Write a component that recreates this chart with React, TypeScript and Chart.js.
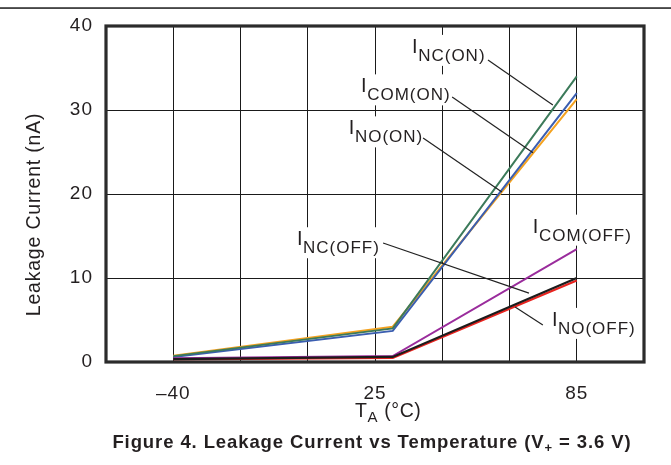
import React, { useEffect, useRef } from 'react';
import { Chart, registerables } from 'chart.js';

Chart.register(...registerables);

// ---- data ----
const temperatures = [-40, 28, 85];
const xTickLabels = ['', '–40', '', '', '25', '', '', '85', ''];
const yTickValues = [0, 10, 20, 30, 40];

const iNcOn = [0.7, 4.0, 34.0];
const iComOn = [0.6, 3.7, 32.0];
const iNoOn = [0.75, 4.2, 31.3];
const iComOff = [0.45, 0.7, 13.45];
const iNcOff = [0.35, 0.6, 10.0];
const iNoOff = [0.3, 0.5, 9.7];

const calloutSubs = ['NC(ON)', 'COM(ON)', 'NO(ON)', 'NC(OFF)', 'COM(OFF)', 'NO(OFF)'];
// callout anchor (temperature, nA) and leader endpoints in data units
const calloutAt = [
  [34.0, 36.8], [18.2, 32.1], [14.4, 27.1], [-1.7, 13.9], [71.4, 15.4], [77.3, 4.3],
];
const calloutLeaders = [
  [57.5, 35.95, 77.6, 30.6],
  [46.4, 31.55, 71.45, 24.9],
  [37.4, 26.67, 61.8, 20.25],
  [25.0, 14.17, 70.2, 8.2],
  null,
  [74.5, 4.4, 65.9, 6.55],
];

const FONT = '"Liberation Sans", Arial, sans-serif';
const TEXT = '#231f20';
const X_MIN = -40 - 125 / 6;
const X_MAX = 85 + 125 / 6;
const X_STEP = 125 / 6;

const overlay = {
  id: 'overlay',
  beforeDraw(chart: any) {
    chart.ctx.letterSpacing = '1px';
  },
  afterDatasetsDraw(chart: any) {
    const ctx = chart.ctx as CanvasRenderingContext2D & { letterSpacing: string };
    const xs = chart.scales.x;
    const ys = chart.scales.y;
    const { left, right, top, bottom } = chart.chartArea;
    ctx.save();
    ctx.textAlign = 'left';
    ctx.textBaseline = 'alphabetic';

    // callouts
    calloutSubs.forEach((sub, i) => {
      const x = xs.getPixelForValue(calloutAt[i][0]);
      const y = ys.getPixelForValue(calloutAt[i][1]);
      ctx.font = `20px ${FONT}`;
      ctx.letterSpacing = '0px';
      const wI = ctx.measureText('I').width;
      ctx.font = `17px ${FONT}`;
      ctx.letterSpacing = '1px';
      const wS = ctx.measureText(sub).width;
      ctx.fillStyle = '#ffffff';
      ctx.fillRect(x - 3, y - 18, wI + wS + 5, 31);
    });
    calloutLeaders.forEach((l) => {
      if (!l) return;
      ctx.beginPath();
      ctx.moveTo(xs.getPixelForValue(l[0]), ys.getPixelForValue(l[1]));
      ctx.lineTo(xs.getPixelForValue(l[2]), ys.getPixelForValue(l[3]));
      ctx.strokeStyle = '#222';
      ctx.lineWidth = 1.2;
      ctx.stroke();
    });
    calloutSubs.forEach((sub, i) => {
      const x = xs.getPixelForValue(calloutAt[i][0]);
      const y = ys.getPixelForValue(calloutAt[i][1]);
      ctx.fillStyle = TEXT;
      ctx.font = `20px ${FONT}`;
      ctx.letterSpacing = '0px';
      ctx.fillText('I', x, y);
      const wI = ctx.measureText('I').width;
      ctx.font = `17px ${FONT}`;
      ctx.letterSpacing = '1px';
      ctx.fillText(sub, x + wI + 0.5, y + 8);
    });

    // frame
    ctx.strokeStyle = '#2b2b2b';
    ctx.lineWidth = 3.2;
    ctx.strokeRect(left, top, right - left, bottom - top);

    // top rule
    ctx.fillStyle = '#1a1a1a';
    ctx.fillRect(0, 7.3, chart.width, 1.5);

    // y title
    ctx.save();
    ctx.translate(35, 214.5);
    ctx.rotate(-Math.PI / 2);
    ctx.textAlign = 'center';
    ctx.textBaseline = 'middle';
    ctx.font = `19.5px ${FONT}`;
    ctx.letterSpacing = '0.8px';
    ctx.fillStyle = TEXT;
    ctx.fillText('Leakage Current (nA)', 0, 0);
    ctx.restore();

    // x title
    ctx.fillStyle = TEXT;
    ctx.textAlign = 'left';
    ctx.letterSpacing = '0.6px';
    let cx = 355;
    ctx.font = `19.5px ${FONT}`;
    ctx.fillText('T', cx, 417);
    cx += ctx.measureText('T').width;
    ctx.font = `15px ${FONT}`;
    ctx.fillText('A', cx, 422);
    cx += ctx.measureText('A').width;
    ctx.font = `19.5px ${FONT}`;
    ctx.fillText(' (°C)', cx, 417);

    // caption
    const parts: [string, string, number][] = [
      ['Figure 4. Leakage Current vs Temperature (V', `bold 18.5px ${FONT}`, 0],
      ['+', `bold 13px ${FONT}`, 4],
      [' = 3.6 V)', `bold 18.5px ${FONT}`, 0],
    ];
    ctx.letterSpacing = '0.9px';
    let total = 0;
    parts.forEach(([t, f]) => { ctx.font = f; total += ctx.measureText(t).width; });
    let px = 372 - total / 2;
    parts.forEach(([t, f, dy]) => {
      ctx.font = f;
      ctx.fillText(t, px, 448 + dy);
      px += ctx.measureText(t).width;
    });
    ctx.restore();
  },
};

const series = [
  { label: 'INC(OFF)', values: iNcOff, color: '#1c1c1c', width: 2.2 },
  { label: 'INO(OFF)', values: iNoOff, color: '#e8231f', width: 2.2 },
  { label: 'ICOM(OFF)', values: iComOff, color: '#9a2c9c', width: 2 },
  { label: 'INC(ON)', values: iNcOn, color: '#3c7a5a', width: 2 },
  { label: 'ICOM(ON)', values: iComOn, color: '#3b5eb0', width: 2 },
  { label: 'INO(ON)', values: iNoOn, color: '#f4a21f', width: 2 },
];

export default function App() {
  const ref = useRef<HTMLCanvasElement>(null);
  useEffect(() => {
    if (!ref.current) return;
    const chart = new Chart(ref.current, {
      type: 'line',
      data: {
        datasets: series.map((s) => ({
          label: s.label,
          data: temperatures.map((t, i) => ({ x: t, y: s.values[i] })),
          borderColor: s.color,
          backgroundColor: s.color,
          borderWidth: s.width,
          pointRadius: 0,
          tension: 0,
          fill: false,
        })),
      },
      options: {
        animation: false,
        responsive: false,
        maintainAspectRatio: false,
        devicePixelRatio: 1,
        layout: { padding: { left: 0, top: 26, right: 27, bottom: 41 } },
        plugins: { legend: { display: false }, tooltip: { enabled: false } },
        scales: {
          x: {
            type: 'linear',
            min: X_MIN,
            max: X_MAX,
            afterBuildTicks: (scale: any) => {
              scale.ticks = xTickLabels.map((_, k) => ({ value: X_MIN + k * X_STEP }));
            },
            afterFit: (scale: any) => { scale.height = 62; },
            grid: { color: '#1a1a1a', lineWidth: 1, drawTicks: false },
            border: { display: false },
            ticks: {
              autoSkip: false,
              maxRotation: 0,
              padding: 20,
              color: TEXT,
              font: { family: FONT, size: 19 },
              callback: (_v: any, i: number) => xTickLabels[i],
            },
          },
          y: {
            type: 'linear',
            min: yTickValues[0],
            max: yTickValues[yTickValues.length - 1],
            afterBuildTicks: (scale: any) => {
              scale.ticks = yTickValues.map((v) => ({ value: v }));
            },
            afterFit: (scale: any) => { scale.width = 106; },
            grid: { color: '#1a1a1a', lineWidth: 1, drawTicks: false },
            border: { display: false },
            ticks: {
              padding: 13,
              color: TEXT,
              font: { family: FONT, size: 19 },
            },
          },
        },
      },
      plugins: [overlay],
    });
    return () => chart.destroy();
  }, []);
  return (
    <div style={{ position: 'fixed', left: 0, top: 0, width: 671, height: 465, background: '#fff' }}>
      <canvas ref={ref} width={671} height={465} style={{ display: 'block' }} />
    </div>
  );
}
